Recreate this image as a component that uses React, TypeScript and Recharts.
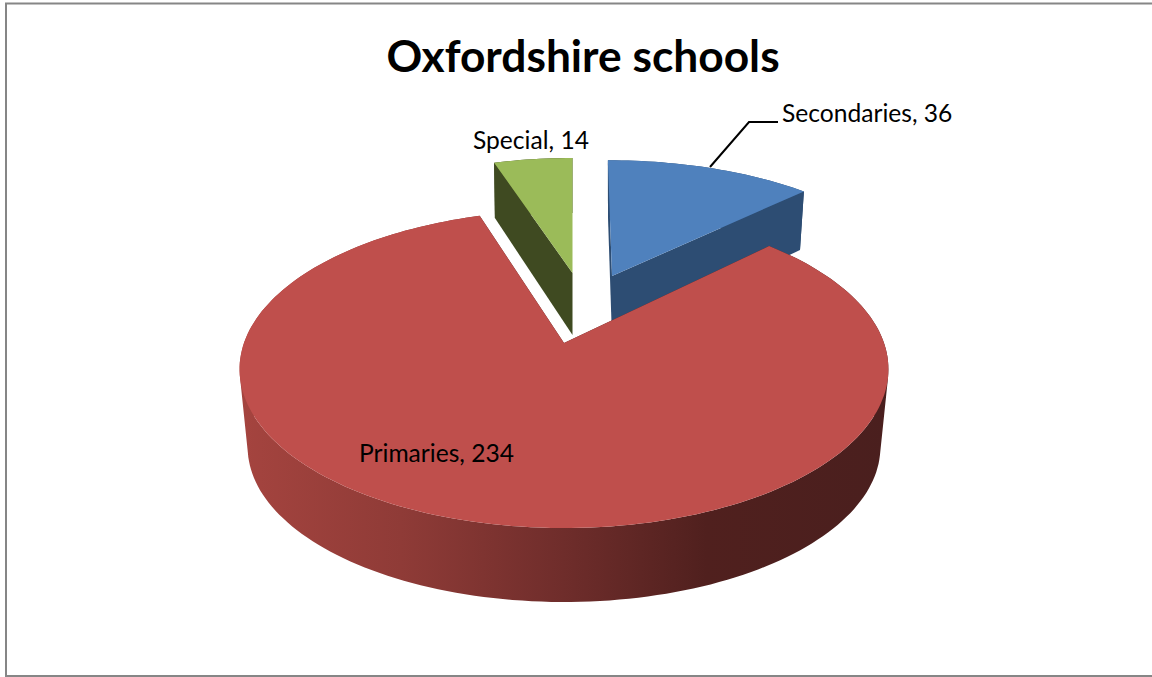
import React from "react";
import { PieChart, Pie } from "recharts";

const W = 1152;
const H = 677;
const TITLE = "Oxfordshire schools";
const categories = ["Secondaries", "Primaries", "Special"];
const counts = [36, 234, 14];
const faceColors = ["#4f81bd", "#bf4f4c", "#9bbb59"];
const cutColors = ["#2d4d73", "#4b1f1e", "#3f4a21"];
const wallFills = ["#2d4d73", "url(#redWall)", "#3f4a21"];

const chartData = categories.map((name, i) => ({ name, value: counts[i], fill: faceColors[i], index: i }));

// Pseudo-3D look of each exploded slice, relative to the pie's centre.
const sliceLook = [
  { dx: 48, dy: -67, sx: 0.95, sy: 0.873, lean: 0.035, drop: 62, bx: 0.98, by: 1.04 },
  { dx: 0, dy: 0, sx: 1, sy: 1, lean: 0, drop: 78.6, bx: 0.975, by: 0.975 },
  { dx: 8.5, dy: -70, sx: 0.93, sy: 0.867, lean: 0, drop: 62, bx: 0.99, by: 1.06 },
];
const labelSpots = [
  { dx: 218, dy: -227 },
  { dx: -205, dy: 113 },
  { dx: -91, dy: -200 },
];
const SQUASH = 154.5 / 320;
const PERSPECTIVE = 0.165;
const FONT = "Lato, 'Open Sans', sans-serif";

function project(deg: number, r: number, cx: number, cy: number, look: any, isBottom: boolean, atCentre = false) {
  const a = ((90 - deg) * Math.PI) / 180;
  const X = atCentre ? 0 : Math.sin(a);
  const Z = atCentre ? 0 : Math.cos(a);
  const w = 1 + PERSPECTIVE * Z;
  const py0 = ((-r * SQUASH * Z) / w) * look.sy;
  let px = ((r * X) / w) * look.sx + py0 * look.lean;
  let py = py0;
  if (isBottom) {
    px *= look.bx;
    py *= look.by;
  }
  return [cx + look.dx + px, cy + look.dy + py + (isBottom ? look.drop : 0)];
}

const toPath = (pts: number[][]) =>
  "M" + pts.map((p) => `${p[0].toFixed(1)},${p[1].toFixed(1)}`).join("L") + "Z";

// Same winding for every quad, so that nonzero fill gives their union.
function wound(pts: number[][]) {
  let area = 0;
  pts.forEach((p, n) => {
    const q = pts[(n + 1) % pts.length];
    area += p[0] * q[1] - q[0] * p[1];
  });
  return area < 0 ? [...pts].reverse() : pts;
}

function SliceShape(props: any) {
  const { cx, cy, outerRadius: r, startAngle, endAngle, payload } = props;
  const i = payload.index;
  const look = sliceLook[i];
  const steps = Math.max(8, Math.ceil(Math.abs(endAngle - startAngle) / 1.5));
  const top: number[][] = [];
  const bottom: number[][] = [];
  for (let s = 0; s <= steps; s++) {
    const d = startAngle + ((endAngle - startAngle) * s) / steps;
    top.push(project(d, r, cx, cy, look, false));
    bottom.push(project(d, r, cx, cy, look, true));
  }
  const apexTop = project(0, r, cx, cy, look, false, true);
  const apexBottom = project(0, r, cx, cy, look, true, true);
  let wall = "";
  for (let s = 0; s < steps; s++) {
    wall += toPath(wound([top[s], top[s + 1], bottom[s + 1], bottom[s]]));
  }
  const cutA = [apexTop, top[0], bottom[0], apexBottom];
  const cutB = [apexTop, top[steps], bottom[steps], apexBottom];
  return (
    <g>
      <path d={wall} fill={wallFills[i]} fillRule="nonzero" />
      <path d={toPath(cutA)} fill={cutColors[i]} />
      <path d={toPath(cutB)} fill={cutColors[i]} />
      <path d={toPath([apexTop, ...top])} fill={faceColors[i]} />
    </g>
  );
}

function SliceLabel(props: any) {
  const { cx, cy, index, name, value } = props;
  const spot = labelSpots[index];
  const x = cx + spot.dx;
  const y = cy + spot.dy;
  return (
    <g>
      {index === 0 && (
        <polyline
          points={`${x - 72},${y + 51} ${x - 33},${y + 6} ${x - 4},${y + 6}`}
          fill="none"
          stroke="#000"
          strokeWidth={2}
        />
      )}
      <text x={x} y={y} fontFamily={FONT} fontSize={24.6} fill="#000" textAnchor="start" dominantBaseline="middle">
        {`${name}, ${value}`}
      </text>
    </g>
  );
}

export default function App() {
  return (
    <div style={{ position: "absolute", left: 0, top: 0, width: W, height: H, overflow: "hidden", background: "#fff" }}>
      <PieChart width={W} height={H} margin={{ top: 0, right: 0, bottom: 0, left: 0 }}>
        <defs>
          <linearGradient id="redWall" gradientUnits="userSpaceOnUse" x1={239} y1={0} x2={888} y2={0}>
            <stop offset="0" stopColor="#a5443f" />
            <stop offset="0.25" stopColor="#8f3b37" />
            <stop offset="0.5" stopColor="#6f2d2b" />
            <stop offset="0.72" stopColor="#50201e" />
            <stop offset="1" stopColor="#4a1f1e" />
          </linearGradient>
        </defs>
        <rect x={6} y={3.5} width={1200} height={672.5} fill="#fff" stroke="#868686" strokeWidth={2} />
        <text x={583} y={61} fontFamily={FONT} fontSize={44.3} fontWeight={700} fill="#000" textAnchor="middle" dominantBaseline="middle">
          {TITLE}
        </text>
        <Pie
          data={chartData}
          dataKey="value"
          nameKey="name"
          cx={564}
          cy={343}
          innerRadius={0}
          outerRadius={320}
          startAngle={90}
          endAngle={-270}
          stroke="none"
          isAnimationActive={false}
          shape={SliceShape}
          label={SliceLabel}
          labelLine={false}
        />
      </PieChart>
    </div>
  );
}
